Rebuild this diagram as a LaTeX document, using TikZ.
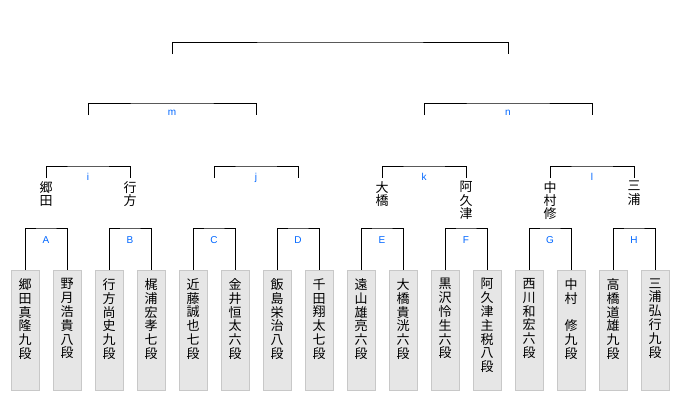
\documentclass[tikz,border=0pt]{standalone}
\usepackage{fontspec}
\setsansfont{Liberation Sans}
\newfontfamily\jpfont{Noto Sans CJK JP}
\usepackage{tikz}
\usetikzlibrary{positioning}

\definecolor{seedblue}{RGB}{0,102,255}
\definecolor{boxfill}{RGB}{230,230,230}
\definecolor{boxline}{RGB}{200,200,200}

% one character per line, top aligned inside the player box
\newcommand{\tatebox}[1]{\parbox[c][104pt][t]{28pt}{\centering #1}}

\begin{document}
\begin{tikzpicture}[
  x=1pt, y=-1pt,
  player/.style={draw=boxline, fill=boxfill, line width=1pt, anchor=north,
                 minimum width=28pt, minimum height=120pt, inner sep=0pt,
                 font=\jpfont\fontsize{13}{13.8}\selectfont},
  winner/.style={anchor=north, inner sep=0pt, align=center,
                 font=\jpfont\fontsize{13}{13.4}\selectfont},
  seed/.style={anchor=base, inner sep=0pt, text=seedblue,
               font=\sffamily\fontsize{10}{10}\selectfont},
  bracket/.style={line width=1pt, black},
]

\useasboundingbox (0,0) rectangle (680,400);

%% ── Players (1st round) ─────────────────────────────────────────────────────
\foreach \pname [count=\k] in {
    {郷\\田\\真\\隆\\九\\段}, {野\\月\\浩\\貴\\八\\段},
    {行\\方\\尚\\史\\九\\段}, {梶\\浦\\宏\\孝\\七\\段},
    {近\\藤\\誠\\也\\七\\段}, {金\\井\\恒\\太\\六\\段},
    {飯\\島\\栄\\治\\八\\段}, {千\\田\\翔\\太\\七\\段},
    {遠\\山\\雄\\亮\\六\\段}, {大\\橋\\貴\\洸\\六\\段},
    {黒\\沢\\怜\\生\\六\\段}, {阿\\久\\津\\主\\税\\八\\段},
    {西\\川\\和\\宏\\六\\段}, {中\\村\\　\\修\\九\\段},
    {高\\橋\\道\\雄\\九\\段}, {三\\浦\\弘\\行\\九\\段}}
  \node[player] (p\k) at ({25+42*(\k-1)}, 270) {\tatebox{\pname}};

%% ── Round 1 brackets A–H ────────────────────────────────────────────────────
\foreach \s [count=\j from 0] in {A,...,H} {
  \pgfmathtruncatemacro\lft{2*\j+1}
  \pgfmathtruncatemacro\rgt{2*\j+2}
  \coordinate (b\s) at ({46+84*\j}, 228);
  \coordinate (w\s) at ({46+84*\j}, 178);
  \draw[bracket] (p\lft.north) |- (b\s) -| (p\rgt.north);
  \node[seed] (s\s) at ([yshift=-15pt]b\s) {\s};
}

%% ── Round 1 winners ─────────────────────────────────────────────────────────
\node[winner, below=3pt of wA] (wnGoda)    {郷\\田};
\node[winner, below=3pt of wB] (wnNamekata) {行\\方};
\node[winner, below=3pt of wE] (wnOhashi)  {大\\橋};
\node[winner, below=3pt of wF] (wnAkutsu)  {阿\\久\\津};
\node[winner, below=3pt of wG] (wnNakamura) {中\\村\\修};
\node[winner, below=3pt of wH] (wnMiura)   {三\\浦};

%% ── Round 2 brackets i–l ────────────────────────────────────────────────────
\foreach \s/\lft/\rgt [count=\j from 0] in {i/A/B, j/C/D, k/E/F, l/G/H} {
  \coordinate (b\s) at ({88+168*\j}, 166);
  \coordinate (w\s) at ({88+168*\j}, 115);
  \draw[bracket] (w\lft) |- (b\s) -| (w\rgt);
  \node[seed] (s\s) at ([yshift=-14pt]b\s) {\s};
}

%% ── Semi-final brackets m, n ────────────────────────────────────────────────
\foreach \s/\lft/\rgt [count=\j from 0] in {m/i/j, n/k/l} {
  \coordinate (b\s) at ({172+336*\j}, 103);
  \coordinate (w\s) at ({172+336*\j}, 54);
  \draw[bracket] (w\lft) |- (b\s) -| (w\rgt);
  \node[seed] (s\s) at ([yshift=-12pt]b\s) {\s};
}

%% ── Final ───────────────────────────────────────────────────────────────────
\coordinate (bfinal) at (340, 42);
\draw[bracket] (wm) |- (bfinal) -| (wn);

\end{tikzpicture}
\end{document}
